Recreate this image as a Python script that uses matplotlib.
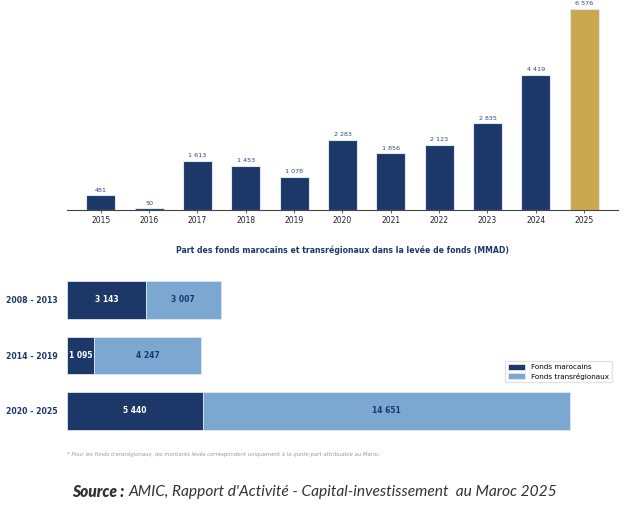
import matplotlib.pyplot as plt
import numpy as np

# --- données ---
years = ["2015", "2016", "2017", "2018", "2019", "2020", "2021", "2022", "2023", "2024", "2025"]
levees = [481, 50, 1613, 1453, 1078, 2283, 1856, 2123, 2835, 4419, 6576]

periodes = ["2008 - 2013", "2014 - 2019", "2020 - 2025"]
fonds_marocains = [3143, 1095, 5440]
fonds_transregionaux = [3007, 4247, 14651]

navy = "#1c3869"
light = "#7ba7d1"
gold = "#c9a84f"
label_col = "#2b4a7e"


def fmt(v):
    return f"{v:,}".replace(",", " ")


fig = plt.figure(figsize=(6.29, 5.14), dpi=100)

# --- 1. histogramme annuel ---
ax1 = fig.add_axes([0.1065, 0.5914, 0.876, 0.399])
x = np.arange(len(years))
colors = [navy] * (len(years) - 1) + [gold]
ax1.bar(x, levees, width=0.6, color=colors, edgecolor="#dfe6f0", linewidth=0.8)
for xi, v in zip(x, levees):
    ax1.text(xi, v + 90, fmt(v), ha="center", va="bottom", fontsize=4.6,
             color=label_col, clip_on=False)
ax1.set_xlim(-0.7, 10.7)
ax1.set_ylim(0, 6707)
ax1.set_xticks(x)
ax1.set_xticklabels(years, fontsize=5.5, color="#222222")
ax1.set_yticks([])
ax1.tick_params(axis="x", length=2, width=0.6, pad=2, color="#444444")
for s in ["top", "right", "left"]:
    ax1.spines[s].set_visible(False)
ax1.spines["bottom"].set_color("#444444")
ax1.spines["bottom"].set_linewidth(0.8)

# --- 2. fonds marocains vs transrégionaux ---
fig.text(0.545, 0.513, "Part des fonds marocains et transrégionaux dans la levée de fonds (MMAD)",
         ha="center", va="center", fontsize=5.6, fontweight="bold", color=navy)

ax2 = fig.add_axes([0.1065, 0.154, 0.8715, 0.311])
y = np.arange(len(periodes))
ax2.barh(y, fonds_marocains, height=0.68, color=navy, edgecolor="#dfe6f0",
         linewidth=0.6, label="Fonds marocains")
ax2.barh(y, fonds_transregionaux, left=fonds_marocains, height=0.68, color=light,
         edgecolor="#dfe6f0", linewidth=0.6, label="Fonds transrégionaux")
for yi, m, t in zip(y, fonds_marocains, fonds_transregionaux):
    ax2.text(m / 2, yi, fmt(m), ha="center", va="center", fontsize=5.5,
             fontweight="bold", color="white")
    ax2.text(m + t / 2, yi, fmt(t), ha="center", va="center", fontsize=5.5,
             fontweight="bold", color=navy)
ax2.set_xlim(0, 21900)
ax2.set_ylim(2.43, -0.45)
ax2.set_yticks(y)
ax2.set_yticklabels(periodes, fontsize=5.6, fontweight="bold", color=navy)
ax2.set_xticks([])
ax2.tick_params(axis="y", length=0, pad=7)
for s in ax2.spines.values():
    s.set_visible(False)
ax2.legend(loc="center right", bbox_to_anchor=(1.0, 0.395), fontsize=5.2, frameon=True,
           edgecolor="#dddddd", fancybox=False, handlelength=2.4, handleheight=0.9,
           borderpad=0.4, labelspacing=0.3)

# --- notes ---
fig.text(0.1065, 0.117,
         "* Pour les fonds transrégionaux, les montants levés correspondent uniquement à la quote-part attribuable au Maroc.",
         fontsize=3.9, style="italic", color="#999999", va="center")

src_bold = fig.text(0.115, 0.043, "Source :", fontsize=11.2, style="italic", fontweight="heavy",
                    family="Lato", color="#333333", va="center", ha="left")
renderer = fig.canvas.get_renderer()
bb = src_bold.get_window_extent(renderer=renderer)
x_next = (bb.x1 + 4) / fig.bbox.width
fig.text(x_next, 0.043, "AMIC, Rapport d'Activité - Capital-investissement  au Maroc 2025",
         fontsize=11.2, style="italic", family="Lato", color="#333333", va="center", ha="left")

fig.savefig("out.png", dpi=100)
